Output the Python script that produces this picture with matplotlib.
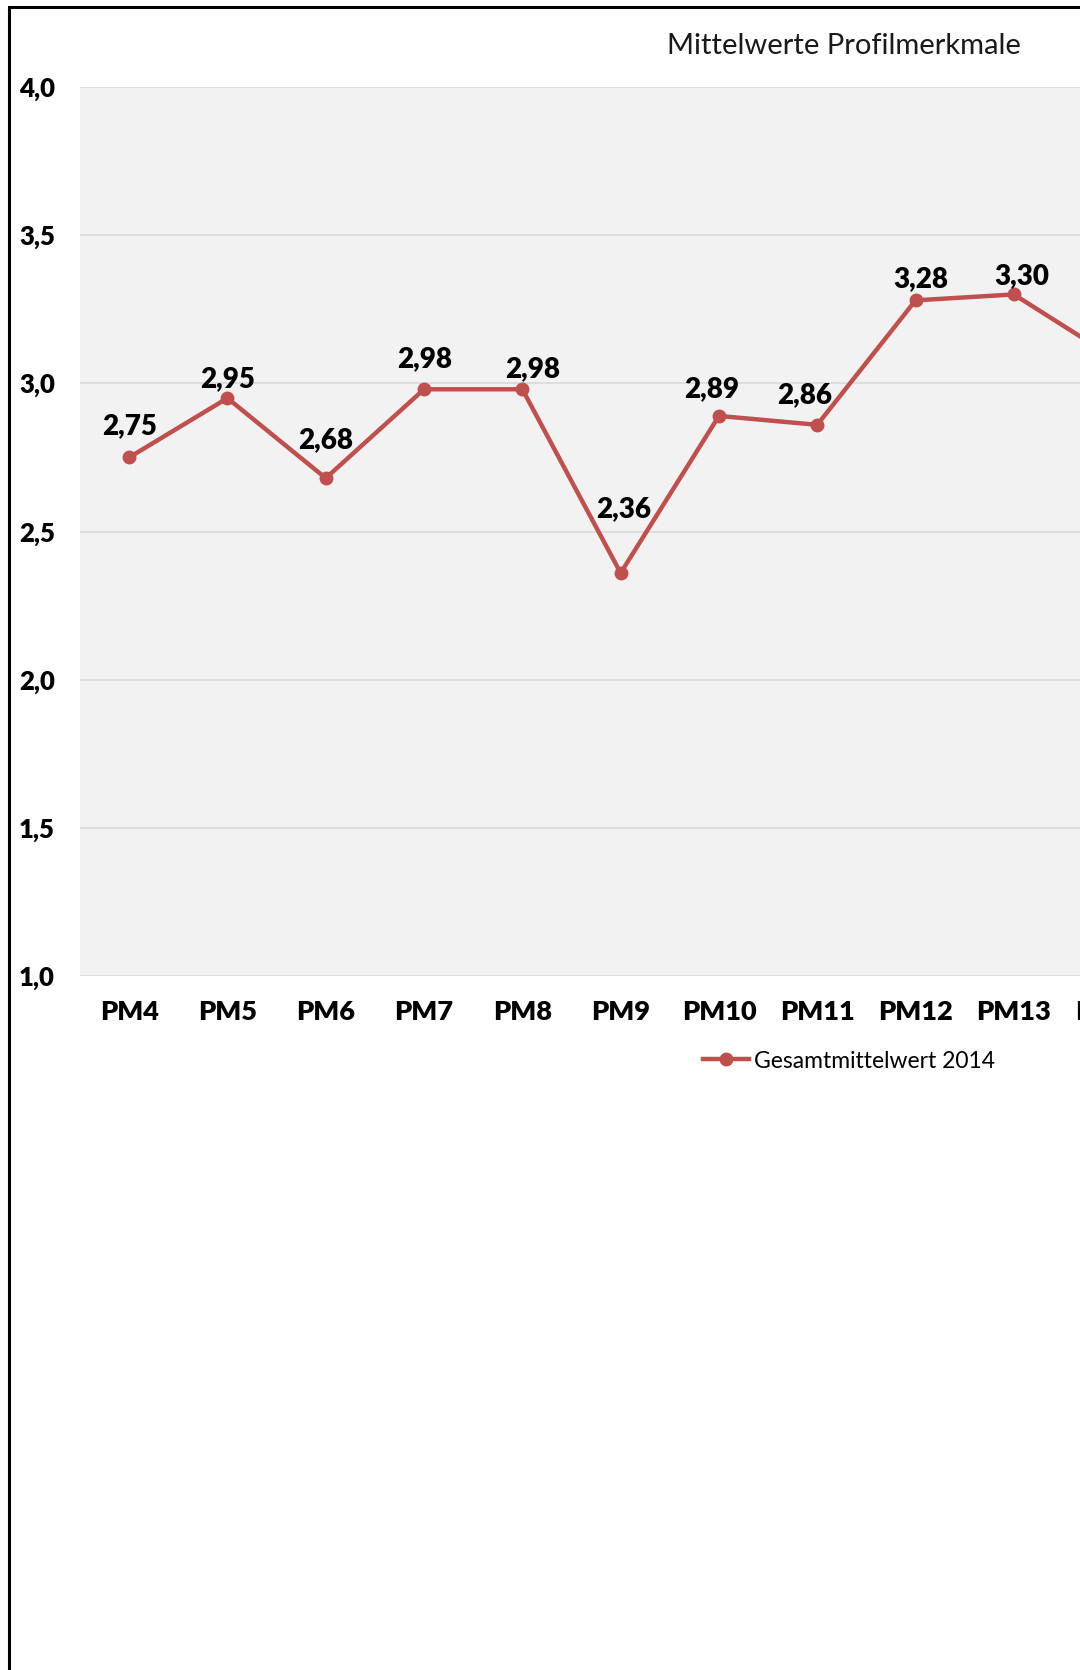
import matplotlib
matplotlib.use("Agg")
import matplotlib.pyplot as plt
from matplotlib.patches import Rectangle

plt.rcParams['font.family'] = ['Lato', 'DejaVu Sans']

categories = ["PM4", "PM5", "PM6", "PM7", "PM8", "PM9", "PM10", "PM11", "PM12", "PM13", "PM14"]
values = [2.75, 2.95, 2.68, 2.98, 2.98, 2.36, 2.89, 2.86, 3.28, 3.30, 3.09]
value_labels = ["2,75", "2,95", "2,68", "2,98", "2,98", "2,36", "2,89", "2,86", "3,28", "3,30", "3,09"]
yticks = [1.0, 1.5, 2.0, 2.5, 3.0, 3.5, 4.0]
ytick_labels = ["1,0", "1,5", "2,0", "2,5", "3,0", "3,5", "4,0"]
series_name = "Gesamtmittelwert 2014"
title = "Mittelwerte Profilmerkmale"

# label offsets in pixels (dx, dy) relative to each point
label_offsets_px = [(0, 34), (0, 22), (0, 41), (1, 33), (10, 23), (3, 66),
                    (-7, 29), (-13, 32), (5, 24), (8, 21), (0, 25)]

W, H = 1080, 1670
fig = plt.figure(figsize=(W / 100, H / 100), dpi=100)
fig.patch.set_facecolor("white")

spacing = 98.3
left_px, top_px, bottom_px = 80, 87, 976
n = len(categories)
ax = fig.add_axes([left_px / W, 1 - bottom_px / H, n * spacing / W, (bottom_px - top_px) / H])
ax.set_facecolor("#F2F2F2")
for s in ax.spines.values():
    s.set_visible(False)

x = list(range(n))
color = "#C0504D"
line, = ax.plot(x, values, color=color, lw=3.2, marker="o", ms=9, label=series_name, zorder=3)

ax.set_xlim(-0.5, n - 0.5)
ax.set_ylim(1.0, 4.0)
ax.set_yticks(yticks)
ax.set_yticklabels(ytick_labels, fontsize=18.5, fontweight="heavy")
ax.set_xticks(x)
ax.set_xticklabels(categories, fontsize=19.5, fontweight="heavy")
ax.tick_params(axis="both", length=0)
ax.tick_params(axis="y", pad=18)
ax.tick_params(axis="x", pad=17.5)
ax.grid(axis="y", color="#D9D9D9", lw=1.2)
ax.set_axisbelow(True)

fig.canvas.draw()
for xi, v, lab, (dx, dy) in zip(x, values, value_labels, label_offsets_px):
    px = ax.transData.transform((xi, v))[0]
    if px > W:
        continue  # outside the visible (cropped) canvas
    ax.annotate(lab, (xi, v), xytext=(dx * 0.72, dy * 0.72), textcoords="offset points",
                ha="center", va="center_baseline", fontsize=20, fontweight="heavy",
                color="black", annotation_clip=False, zorder=4)

fig.text(844 / W, 1 - 46 / H, title, ha="center", va="center", fontsize=21, color="#1a1a1a")

fig.legend(handles=[line], labels=[series_name], loc="center",
           bbox_to_anchor=(849 / W, 1 - 1061 / H), frameon=False, fontsize=16.5,
           handlelength=2.0, handletextpad=0.2)

# outer chart frame (continues beyond the cropped right/bottom edges)
fig.add_artist(Rectangle((9 / W, -0.1), 2.0, 1.1 - 7 / H, transform=fig.transFigure,
                         fill=False, edgecolor="black", lw=2.2))

fig.savefig("out.png", dpi=100)
